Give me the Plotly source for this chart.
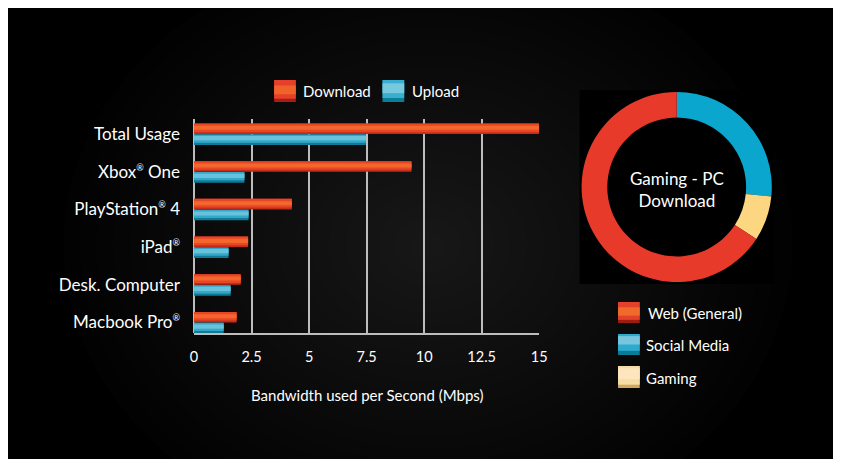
import plotly.graph_objects as go

# ---------------- data ----------------
devices = ["Total Usage", "Xbox<sup>®</sup> One", "PlayStation<sup>®</sup> 4",
           "iPad<sup>®</sup>", "Desk. Computer", "Macbook Pro<sup>®</sup>"]
download = [15.0, 9.45, 4.25, 2.35, 2.03, 1.85]
upload = [7.47, 2.19, 2.37, 1.5, 1.59, 1.29]
x_ticks = [0, 2.5, 5, 7.5, 10, 12.5, 15]
x_tick_labels = ["0", "2.5", "5", "7.5", "10", "12.5", "15"]

pie_labels = ["Social Media", "Gaming", "Web (General)"]
pie_values = [26.6, 7.6, 65.8]
legend_labels = ["Web (General)", "Social Media", "Gaming"]

W, H = 825, 451
OFF = 8  # page body margin
def px(x): return (x - OFF) / W
def py(y): return 1 - (y - OFF) / H

FONT = "Lato"
SUP = "<sup><span style='font-size:9px'>®</span></sup>"
devices = [d.replace("<sup>®</sup>", SUP) for d in devices]

fig = go.Figure()

# ---- bars with pseudo-gradient layers ----
T = 0.28
dl_layers = [("#c22c1a", 0.0, 1.0), ("#ea4527", 0.0, 0.82), ("#f2672b", 0.22, 0.6)]
ul_layers = [("#0c7c99", 0.0, 1.0), ("#34a8c8", 0.0, 0.78), ("#68c2dc", 0.15, 0.55)]
for col, a, b in dl_layers:
    fig.add_trace(go.Bar(y=list(range(len(devices))), x=download, orientation="h",
                         offset=-T + a * T, width=(b - a) * T,
                         marker=dict(color=col, line=dict(width=0)),
                         showlegend=False, hoverinfo="x"))
for col, a, b in ul_layers:
    fig.add_trace(go.Bar(y=list(range(len(devices))), x=upload, orientation="h",
                         offset=a * T + 0.01, width=(b - a) * T,
                         marker=dict(color=col, line=dict(width=0)),
                         showlegend=False, hoverinfo="x"))

# ---- donut ----
fig.add_trace(go.Pie(labels=pie_labels, values=pie_values, hole=0.73, sort=False,
                     direction="clockwise", rotation=0, textinfo="none",
                     marker=dict(colors=["#0aa6cd", "#fcd680", "#e83a2a"], line=dict(width=0)),
                     domain=dict(x=[px(586), px(779)], y=[py(283.5), py(90.5)]),
                     showlegend=False, hoverinfo="label+percent"))

shapes = []
# radial glow
N = 22
for i in range(N):
    f = 1 - i / N
    rx, ry = 370 * f, 300 * f
    cx, cy = 430, 245
    shapes.append(dict(type="circle", xref="paper", yref="paper",
                       x0=px(cx - rx), x1=px(cx + rx),
                       y0=py(cy + ry), y1=py(cy - ry),
                       fillcolor="rgba(255,255,255,0.0098)", line=dict(width=0), layer="below"))
# black square behind donut
shapes.append(dict(type="rect", xref="paper", yref="paper", x0=px(584), x1=px(781),
                   y0=py(284), y1=py(90), fillcolor="#000000", line=dict(width=0), layer="below"))

def swatch(x0, y0, x1, y1, bands):
    h = y1 - y0
    for col, a, b in bands:
        shapes.append(dict(type="rect", xref="paper", yref="paper", x0=px(x0), x1=px(x1),
                           y0=py(y0 + b * h), y1=py(y0 + a * h), fillcolor=col,
                           line=dict(width=0), layer="above"))

dl_sw = [("#a81e12", 0, 1), ("#e5402a", 0, 0.85), ("#f0622a", 0.25, 0.65)]
ul_sw = [("#0b7d99", 0, 1), ("#3aaed0", 0, 0.82), ("#78c8de", 0.15, 0.6)]
web_sw = [("#9c1c10", 0, 1), ("#e4412a", 0, 0.85), ("#ef6a2b", 0.25, 0.65)]
soc_sw = [("#0a7c98", 0, 1), ("#2eaace", 0, 0.8), ("#78c6de", 0.1, 0.5)]
gam_sw = [("#cfa964", 0, 1), ("#f6dca6", 0, 0.85), ("#fde6bd", 0.1, 0.6)]

swatch(274, 80, 296, 102, dl_sw)
swatch(384, 80, 406, 102, ul_sw)
swatch(623, 302, 645, 323, web_sw)
swatch(623, 334, 645, 355, soc_sw)
swatch(623, 366, 645, 388, gam_sw)

ann = []
def text(x, y, s, size, anchor="left"):
    ann.append(dict(xref="paper", yref="paper", x=px(x), y=py(y), text=s, showarrow=False,
                    xanchor=anchor, yanchor="middle",
                    font=dict(family=FONT, size=size, color="#ffffff")))

text(301, 91, "Download", 15)
text(412, 91, "Upload", 15)
text(651, 313, legend_labels[0], 15)
text(649, 345, legend_labels[1], 15)
text(649, 378, legend_labels[2], 15)
text(368, 395, "Bandwidth used per Second (Mbps)", 15, "center")
ann.append(dict(xref="paper", yref="paper", x=px(683), y=py(189),
                text="Gaming - PC<br>Download", showarrow=False,
                xanchor="center", yanchor="middle",
                font=dict(family=FONT, size=17, color="#ffffff")))

fig.update_layout(
    width=W, height=H, margin=dict(l=0, r=0, t=0, b=0),
    paper_bgcolor="#000000", plot_bgcolor="rgba(0,0,0,0)",
    barmode="overlay", shapes=shapes, annotations=ann,
    font=dict(family=FONT, color="#ffffff"),
    xaxis=dict(domain=[px(192.7), px(543)], range=[0, 15], tickvals=x_ticks,
               ticktext=x_tick_labels, showgrid=True, gridcolor="#bdbdbd", gridwidth=1.5,
               zeroline=True, zerolinecolor="#bdbdbd", zerolinewidth=1.5,
               showline=True, linecolor="#bdbdbd", linewidth=1.5,
               ticks="", ticklabelstandoff=10,
               tickfont=dict(family=FONT, size=14.5, color="#ffffff")),
    yaxis=dict(domain=[py(333), py(119)], range=[5.28, -0.4],
               tickvals=list(range(len(devices))), ticktext=devices,
               showgrid=False, zeroline=False, showline=False, ticks="",
               ticklabelstandoff=13,
               tickfont=dict(family=FONT, size=17, color="#ffffff")),
)

fig.write_html("out.html")
